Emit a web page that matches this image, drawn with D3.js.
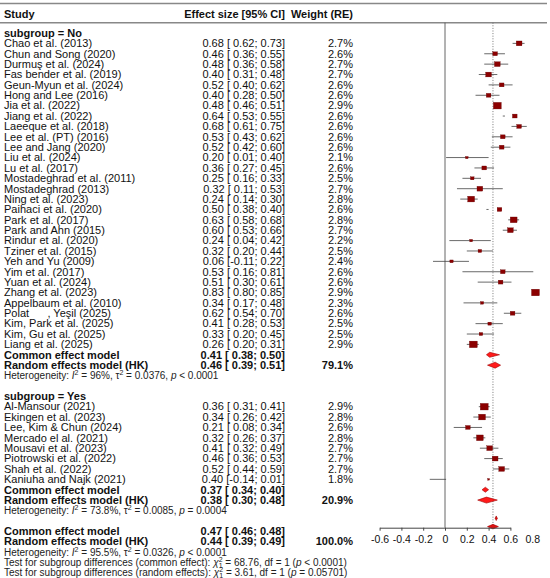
<!DOCTYPE html>
<html>
<head>
<meta charset="utf-8">
<script src="https://cdn.jsdelivr.net/npm/d3@7"></script>
<style>
  body { margin: 0; background: #fff; }
</style>
</head>
<body>
<svg id="forest" width="550" height="578" font-family="Liberation Sans, Arial, Helvetica, sans-serif"></svg>
<script>
// study level data
const studies = [
  "Chao et al. (2013)", "Chun and Song (2020)", "Durmuş et al. (2024)", "Fas bender et al. (2019)",
  "Geun-Myun et al. (2024)", "Hong and Lee (2016)", "Jia et al. (2022)", "Jiang et al. (2022)",
  "Laeeque et al. (2018)", "Lee et al. (PT) (2016)", "Lee and Jang (2020)", "Liu et al. (2024)",
  "Lu et al. (2017)", "Mostadeghrad et al. (2011)", "Mostadeghrad (2013)", "Ning et al. (2023)",
  "Paihaci et al. (2020)", "Park et al. (2017)", "Park and Ahn (2015)", "Rindur et al. (2020)",
  "Tziner et al. (2015)", "Yeh and Yu (2009)", "Yim et al. (2017)", "Yuan et al. (2024)",
  "Zhang et al. (2023)", "Appelbaum et al. (2010)", "Polat      , Yeşil (2025)", "Kim, Park et al. (2025)",
  "Kim, Gu et al. (2025)", "Liang et al. (2025)",
  "Al-Mansour (2021)", "Ekingen et al. (2023)", "Lee, Kim & Chun (2024)", "Mercado el al. (2021)",
  "Mousavi et al. (2023)", "Piotrowski et al. (2022)", "Shah et al. (2022)", "Kaniuha and Najk (2021)"
];
const est = [0.68, 0.46, 0.48, 0.40, 0.52, 0.40, 0.48, 0.64, 0.68, 0.53, 0.52, 0.20, 0.36, 0.25, 0.32,
  0.24, 0.50, 0.63, 0.60, 0.24, 0.32, 0.06, 0.53, 0.51, 0.83, 0.34, 0.62, 0.41, 0.33, 0.26,
  0.36, 0.34, 0.21, 0.32, 0.41, 0.46, 0.52, 0.40];
const lo = [0.62, 0.36, 0.36, 0.31, 0.40, 0.28, 0.46, 0.53, 0.61, 0.43, 0.42, 0.01, 0.27, 0.16, 0.11,
  0.14, 0.38, 0.58, 0.53, 0.04, 0.20, -0.11, 0.16, 0.30, 0.80, 0.17, 0.54, 0.28, 0.20, 0.20,
  0.31, 0.26, 0.08, 0.26, 0.32, 0.36, 0.44, -0.14];
const hi = [0.73, 0.55, 0.58, 0.48, 0.62, 0.50, 0.51, 0.55, 0.75, 0.62, 0.60, 0.40, 0.45, 0.33, 0.53,
  0.30, 0.40, 0.68, 0.66, 0.42, 0.44, 0.22, 0.81, 0.61, 0.85, 0.48, 0.70, 0.53, 0.45, 0.31,
  0.41, 0.42, 0.34, 0.37, 0.49, 0.53, 0.59, 0.01];
const weight = [2.7, 2.6, 2.7, 2.7, 2.6, 2.6, 2.9, 2.6, 2.6, 2.6, 2.6, 2.1, 2.6, 2.5, 2.7,
  2.8, 2.6, 2.8, 2.7, 2.2, 2.5, 2.4, 2.6, 2.6, 2.9, 2.3, 2.6, 2.5, 2.5, 2.9,
  2.9, 2.8, 2.6, 2.8, 2.7, 2.7, 2.7, 1.8];
const group = d3.range(38).map(i => i < 30 ? "No" : "Yes");

// subgroup summaries
const subgroups = ["No", "Yes"];
const commonEst = [0.41, 0.37], commonLo = [0.38, 0.34], commonHi = [0.50, 0.40];
const randomEst = [0.46, 0.38], randomLo = [0.39, 0.30], randomHi = [0.51, 0.48];
const randomWeight = [79.1, 20.9];
const hetI2 = ["96%", "73.8%"], hetTau2 = ["0.0376", "0.0085"], hetP = ["< 0.0001", "= 0.0004"];

// overall summaries
const overallCommon = [0.47, 0.46, 0.48];
const overallRandom = [0.44, 0.39, 0.49];
const overallWeight = 100.0;
const overallHet = ["95.5%", "0.0326", "< 0.0001"];
const testLabels = ["common effect", "random effects"];
const testChi = ["68.76", "3.61"], testP = ["< 0.0001", "= 0.05701"];

const tickValues = [-0.6, -0.4, -0.2, 0, 0.2, 0.4, 0.6, 0.8];

// ---------------------------------------------------------------
const svg = d3.select("#forest");
const FONT = "Liberation Sans, Arial, Helvetica, sans-serif";
const loc = d3.formatLocale({decimal: ".", thousands: ",", grouping: [3], currency: ["", ""], minus: "-"});
const f2 = loc.format(".2f"), f1 = loc.format(".1f"), ft = loc.format("");

const x = d3.scaleLinear().domain([-0.6, 0.6]).range([445 - 0.6 * 109, 445 + 0.6 * 109]);
const rowY = i => 33 + i * 10.38;
const boxSize = d3.scaleLinear().domain([1.8, 2.5, 2.9]).range([1.6, 3, 6.6]);

const colStudy = 4, colEffect = 285, colWeight = 353;
const axisY = 527.7;

function ciText(e, l, h) {
  return f2(e) + " [" + (l < 0 ? "" : " ") + f2(l) + "; " + f2(h) + "]";
}

function txt(str, xp, y, anchor, bold, size) {
  return svg.append("text")
    .attr("x", xp).attr("y", y + 3.8)
    .attr("font-family", FONT)
    .attr("text-anchor", anchor || "start")
    .attr("font-size", size || 11)
    .attr("font-weight", bold ? "bold" : "normal")
    .attr("fill", "#111")
    .attr("xml:space", "preserve")
    .style("white-space", "pre")
    .text(str);
}

// heterogeneity line with italics and superscripts
function hetLine(y, i2, tau2, p) {
  const t = svg.append("text").attr("x", colStudy).attr("y", y + 3.6)
    .attr("font-family", FONT).attr("font-size", 10).attr("fill", "#222");
  t.append("tspan").text("Heterogeneity: ");
  t.append("tspan").attr("font-style", "italic").text("I");
  t.append("tspan").attr("font-size", 7).attr("dy", -4).text("2");
  t.append("tspan").attr("dy", 4).text(" = " + i2 + ", τ");
  t.append("tspan").attr("font-size", 7).attr("dy", -4).text("2");
  t.append("tspan").attr("dy", 4).text(" = " + tau2 + ", ");
  t.append("tspan").attr("font-style", "italic").text("p");
  t.append("tspan").text(" " + p);
}

function testLine(y, label, chi, p) {
  const t = svg.append("text").attr("x", colStudy).attr("y", y + 3.6)
    .attr("font-family", FONT).attr("font-size", 10).attr("fill", "#222");
  t.append("tspan").text("Test for subgroup differences (" + label + "): ");
  t.append("tspan").attr("font-style", "italic").text("χ");
  t.append("tspan").attr("font-size", 7).attr("dy", -4).text("2");
  t.append("tspan").attr("font-size", 7).attr("dx", -3.9).attr("dy", 6).text("1");
  t.append("tspan").attr("dy", -2).text(" = " + chi + ", df = 1 (");
  t.append("tspan").attr("font-style", "italic").text("p");
  t.append("tspan").text(" " + p + ")");
}

function diamond(e, l, h, y, half, fill) {
  const pts = [[x(l), y], [x(e), y - half], [x(h), y], [x(e), y + half]];
  svg.append("polygon")
    .attr("points", pts.map(p => p.join(",")).join(" "))
    .attr("fill", fill).attr("stroke", "#a00000").attr("stroke-width", 0.6);
}

// header
svg.append("line").attr("x1", 0).attr("x2", 547).attr("y1", 3.5).attr("y2", 3.5)
  .attr("stroke", "#888").attr("stroke-width", 1.4);
svg.append("line").attr("x1", 0).attr("x2", 547).attr("y1", 22.7).attr("y2", 22.7)
  .attr("stroke", "#888").attr("stroke-width", 1.4);
txt("Study", colStudy, 14, "start", true);
txt("Effect size [95% CI]", colEffect, 14, "end", true);
txt("Weight (RE)", colWeight, 14, "end", true);

// reference lines
svg.append("line").attr("x1", x(0)).attr("x2", x(0)).attr("y1", 22.7).attr("y2", axisY)
  .attr("stroke", "#555").attr("stroke-width", 0.9);
svg.append("line").attr("x1", x(overallRandom[0])).attr("x2", x(overallRandom[0]))
  .attr("y1", 22.7).attr("y2", axisY)
  .attr("stroke", "#666").attr("stroke-width", 0.9).attr("stroke-dasharray", "1,1.6");

// body rows
let r = 0;
subgroups.forEach((g, gi) => {
  txt("subgroup = " + g, colStudy, rowY(r++), "start", true);
  d3.range(studies.length).filter(i => group[i] === g).forEach(i => {
    const y = rowY(r++);
    txt(studies[i], colStudy, y);
    txt(ciText(est[i], lo[i], hi[i]), colEffect, y, "end");
    txt(f1(weight[i]) + "%", colWeight, y, "end");
    svg.append("line").attr("x1", x(lo[i])).attr("x2", x(hi[i])).attr("y1", y).attr("y2", y)
      .attr("stroke", "#444").attr("stroke-width", 0.8);
    const s = boxSize(weight[i]);
    svg.append("rect")
      .attr("x", x(est[i]) - s * 0.6).attr("y", y - s / 2)
      .attr("width", s * 1.2).attr("height", s)
      .attr("fill", "#8b0000").attr("stroke", "#600000").attr("stroke-width", 0.3);
  });
  let y = rowY(r++);
  txt("Common effect model", colStudy, y, "start", true);
  txt(ciText(commonEst[gi], commonLo[gi], commonHi[gi]), colEffect, y, "end", true);
  diamond(commonEst[gi], commonLo[gi], commonHi[gi], y, 2.5, "#ff1a1a");
  y = rowY(r++);
  txt("Random effects model (HK)", colStudy, y, "start", true);
  txt(ciText(randomEst[gi], randomLo[gi], randomHi[gi]), colEffect, y, "end", true);
  txt(f1(randomWeight[gi]) + "%", colWeight, y, "end", true);
  diamond(randomEst[gi], randomLo[gi], randomHi[gi], y, 3, "#ff1a1a");
  hetLine(rowY(r++), hetI2[gi], hetTau2[gi], hetP[gi]);
  r++; // blank row
});

// overall rows
let y = rowY(r++);
txt("Common effect model", colStudy, y, "start", true);
txt(ciText(...overallCommon), colEffect, y, "end", true);
diamond(...overallCommon, y - 13, 2.3, "#e01010");
y = rowY(r++);
txt("Random effects model (HK)", colStudy, y, "start", true);
txt(ciText(...overallRandom), colEffect, y, "end", true);
txt(f1(overallWeight) + "%", colWeight, y, "end", true);
diamond(...overallRandom, y - 15, 2.3, "#e01010");
hetLine(rowY(r++), ...overallHet);
testLabels.forEach((lab, k) => testLine(rowY(r++), lab, testChi[k], testP[k]));

// x axis
const axis = svg.append("g")
  .attr("transform", "translate(0," + axisY + ")")
  .call(d3.axisBottom(x).tickValues(tickValues).tickFormat(ft)
    .tickSize(3).tickSizeOuter(0).tickPadding(5));
axis.attr("font-family", FONT).attr("font-size", 10.5);
axis.select(".domain").attr("stroke", "#444");
axis.selectAll(".tick line").attr("stroke", "#444");
axis.selectAll(".tick").filter(d => d > 0.6).select("line").remove();
axis.selectAll(".tick text").attr("fill", "#111");
</script>
</body>
</html>
